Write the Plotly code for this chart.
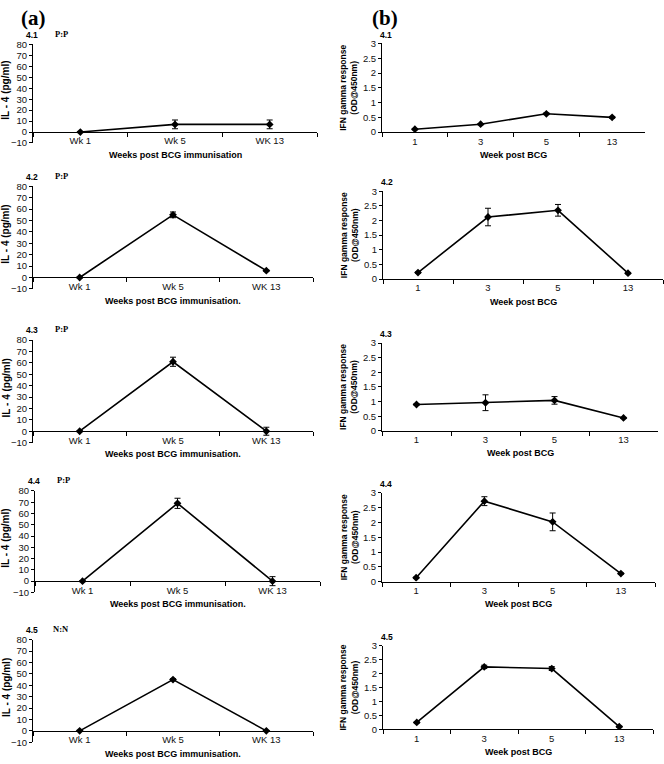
import plotly.graph_objects as go

W, H = 664, 764

# ---------------- data ----------------
il4_weeks = ["Wk 1", "Wk 5", "WK 13"]
il4_41 = [0, 7, 7]
il4_41_err = [0.5, 4, 4]
il4_42 = [0, 55, 6]
il4_42_err = [0.5, 2.5, 0.5]
il4_43 = [0, 61, 0]
il4_43_err = [0.5, 4, 3.5]
il4_44 = [0, 69, 0]
il4_44_err = [0.5, 4.5, 4]
il4_45 = [0, 45, 0]
il4_45_err = [0.5, 0.8, 0.3]

ifn_weeks = ["1", "3", "5", "13"]
ifn_41 = [0.10, 0.27, 0.62, 0.50]
ifn_41_err = [0.02, 0.02, 0.03, 0.03]
ifn_42 = [0.22, 2.12, 2.35, 0.20]
ifn_42_err = [0.02, 0.30, 0.20, 0.02]
ifn_43 = [0.90, 0.96, 1.04, 0.44]
ifn_43_err = [0.02, 0.27, 0.13, 0.02]
ifn_44 = [0.13, 2.72, 2.02, 0.27]
ifn_44_err = [0.02, 0.15, 0.30, 0.02]
ifn_45 = [0.25, 2.24, 2.18, 0.10]
ifn_45_err = [0.02, 0.06, 0.07, 0.02]

panel_ids = ["4.1", "4.2", "4.3", "4.4", "4.5"]
pair_labels = ["P:P", "P:P", "P:P", "P:P", "N:N"]
il4_titles = ["Weeks post BCG immunisation", "Weeks post BCG immunisation.",
              "Weeks post BCG immunisation.", "Weeks post BCG immunisation.",
              "Weeks post BCG immunisation."]
il4_series = [(il4_41, il4_41_err), (il4_42, il4_42_err), (il4_43, il4_43_err),
              (il4_44, il4_44_err), (il4_45, il4_45_err)]
ifn_series = [(ifn_41, ifn_41_err), (ifn_42, ifn_42_err), (ifn_43, ifn_43_err),
              (ifn_44, ifn_44_err), (ifn_45, ifn_45_err)]

# ---------------- layout boxes (pixels) ----------------
left_boxes = [(33, 317, 39, 139), (33, 313, 183, 287), (33, 313, 339, 443),
              (35, 320, 492, 595), (33, 313, 643, 747)]
right_boxes = [(382, 645, 38, 128), (383, 663, 188, 277), (382, 658, 342, 431),
               (382, 655, 494, 584), (383, 653, 649, 734)]


def px(x):
    return x / W


def py(y):
    return 1 - y / H


fig = go.Figure()
annotations = []
FAM = "Arial, Liberation Sans, sans-serif"
SERIF = "Times New Roman, Liberation Serif, serif"
TICKFONT = dict(family=FAM, size=9.5, color="#111")
TITLEFONT = dict(family=FAM, size=9, color="#000")


def note(text, x, y, font, angle=0):
    annotations.append(dict(text=text, x=px(x), y=py(y), xref="paper", yref="paper",
                            xanchor="center", yanchor="middle", showarrow=False,
                            textangle=angle, font=font))


ax = 1
for i in range(5):
    # ---- left IL-4 panel ----
    x0, x1, yt, yb = left_boxes[i]
    vals, errs = il4_series[i]
    xa = "xaxis" if ax == 1 else f"xaxis{ax}"
    ya = "yaxis" if ax == 1 else f"yaxis{ax}"
    xr = "x" if ax == 1 else f"x{ax}"
    yr = "y" if ax == 1 else f"y{ax}"
    fig.add_trace(go.Scatter(
        x=il4_weeks, y=vals, xaxis=xr, yaxis=yr, mode="lines+markers",
        line=dict(color="black", width=1.6),
        marker=dict(symbol="diamond", size=6, color="black"),
        error_y=dict(type="data", array=errs, color="black", thickness=1, width=3),
        showlegend=False, hoverinfo="skip"))
    y0px = yt + (yb - yt) * 80 / 90
    fig.layout[xa] = dict(
        domain=[px(x0), px(x1)], anchor="free", position=py(y0px),
        type="category", range=[-0.5, 2.5], showline=True, linecolor="black",
        linewidth=1, ticks="outside", ticklen=4, tickcolor="black",
        tickson="boundaries", showgrid=False, zeroline=False, tickfont=TICKFONT,
        fixedrange=True)
    fig.layout[ya] = dict(
        domain=[py(yb), py(yt)], anchor=xr, range=[-10, 80], dtick=10,
        showline=True, linecolor="black", linewidth=1, ticks="outside",
        ticklen=3, tickcolor="black", showgrid=False, zeroline=False,
        tickfont=TICKFONT, fixedrange=True)
    note("<b>" + il4_titles[i] + "</b>", (x0 + x1) / 2, yb + 12, TITLEFONT)
    note("<b>IL - 4 (pg/ml)</b>", 6, (yt + yb) / 2 - 3,
         dict(family=FAM, size=10, color="#000"), -90)
    note("<b>" + panel_ids[i] + "</b>", x0 - 1, yt - 10,
         dict(family=FAM, size=8.5, color="#000"))
    note("<b>" + pair_labels[i] + "</b>", x0 + 28, yt - 11,
         dict(family=SERIF, size=8.5, color="#000"))
    ax += 1

    # ---- right IFN panel ----
    x0, x1, yt, yb = right_boxes[i]
    vals, errs = ifn_series[i]
    xa = f"xaxis{ax}"
    ya = f"yaxis{ax}"
    xr = f"x{ax}"
    yr = f"y{ax}"
    fig.add_trace(go.Scatter(
        x=ifn_weeks, y=vals, xaxis=xr, yaxis=yr, mode="lines+markers",
        line=dict(color="black", width=1.6),
        marker=dict(symbol="diamond", size=6, color="black"),
        error_y=dict(type="data", array=errs, color="black", thickness=1, width=3),
        showlegend=False, hoverinfo="skip"))
    fig.layout[xa] = dict(
        domain=[px(x0), px(x1)], anchor=yr, type="category", range=[-0.5, 3.5],
        showline=True, linecolor="black", linewidth=1, ticks="outside",
        ticklen=4, tickcolor="black", tickson="boundaries", showgrid=False,
        zeroline=False, tickfont=TICKFONT, fixedrange=True)
    fig.layout[ya] = dict(
        domain=[py(yb), py(yt)], anchor=xr, range=[0, 3], dtick=0.5,
        showline=True, linecolor="black", linewidth=1, ticks="outside",
        ticklen=3, tickcolor="black", showgrid=False, zeroline=False,
        tickfont=TICKFONT, fixedrange=True)
    note("<b>Week post BCG</b>", (x0 + x1) / 2, yb + 23, TITLEFONT)
    note("<b>IFN gamma response<br>(OD@450nm)</b>", 349, (yt + yb) / 2,
         dict(family=FAM, size=8.5, color="#000"), -90)
    note("<b>" + panel_ids[i] + "</b>", x0 + 4, yt - 9,
         dict(family=FAM, size=8.5, color="#000"))
    ax += 1

note("<b>(a)</b>", 33, 12, dict(family=SERIF, size=21, color="#000"))
note("<b>(b)</b>", 385, 12, dict(family=SERIF, size=21, color="#000"))

fig.update_layout(width=W, height=H, autosize=False,
                  margin=dict(l=0, r=0, t=0, b=0),
                  paper_bgcolor="white", plot_bgcolor="white",
                  annotations=annotations)

fig.write_html("out.html", config={"displayModeBar": False},
               post_script="document.body.style.margin='0';")
